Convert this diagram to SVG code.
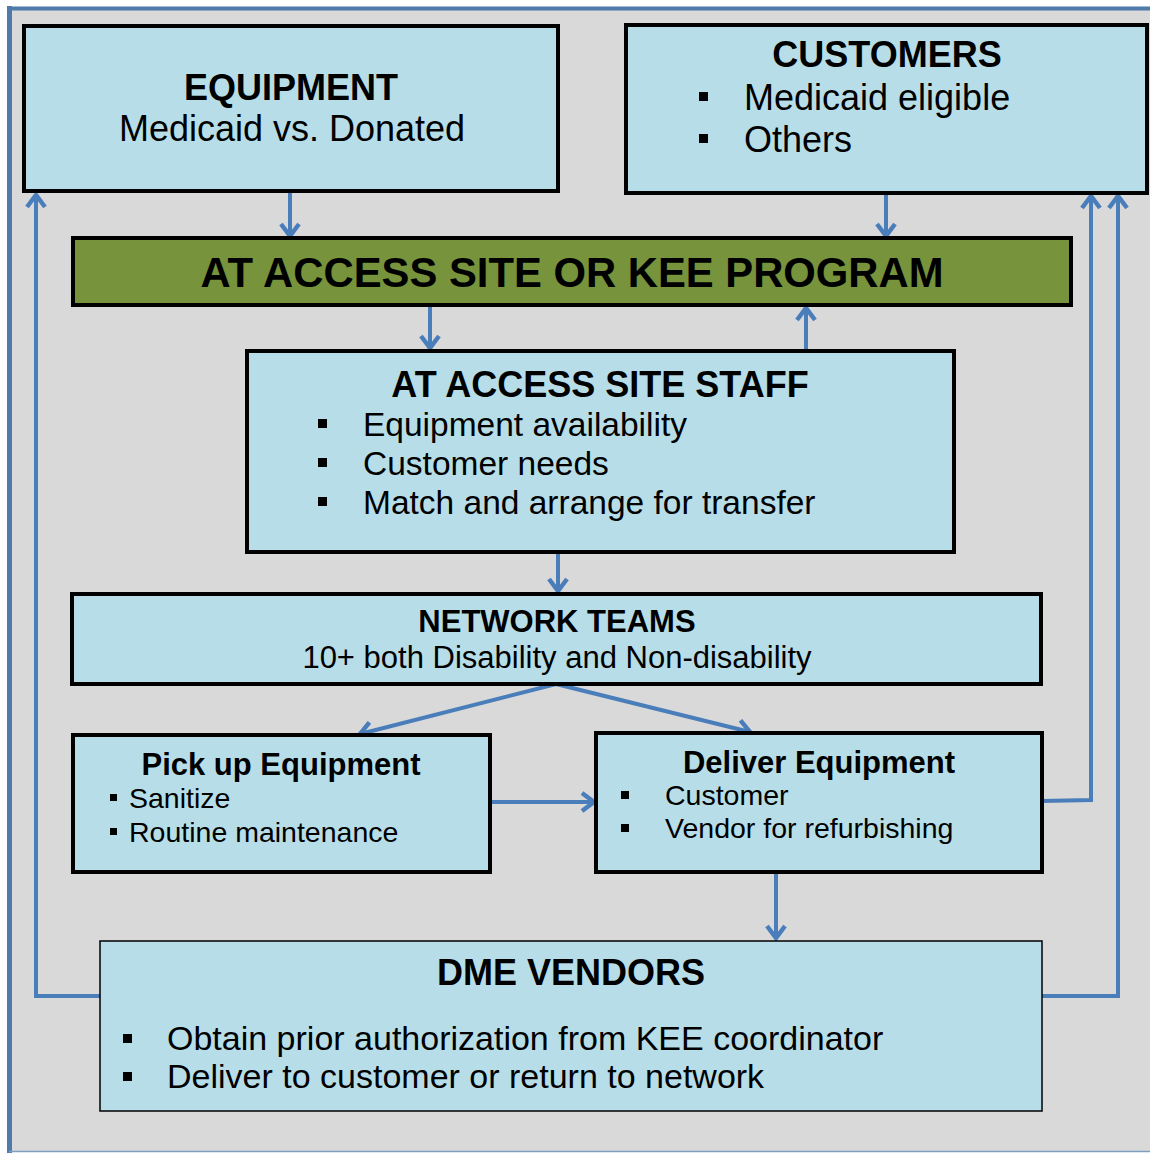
<svg xmlns="http://www.w3.org/2000/svg" width="1150" height="1153" viewBox="0 0 1150 1153">
<defs>
<style>
.box{fill:#b7dee8;stroke:#000;stroke-width:4}
.thin{fill:#b7dee8;stroke:#000;stroke-width:1.5}
.t{font-family:"Liberation Sans",Arial,sans-serif;fill:#000}
.b{font-weight:bold}
.c{text-anchor:middle}
.con{fill:none;stroke:#4a7ebb;stroke-width:4;stroke-linejoin:miter}
</style>
<marker id="ah" viewBox="-3 -3 18 24" markerWidth="18" markerHeight="24" refX="12" refY="9" orient="auto" markerUnits="userSpaceOnUse">
<path d="M0,0 L12,9 L0,18" fill="none" stroke="#4a7ebb" stroke-width="4.5"/>
</marker>
</defs>
<rect x="0" y="0" width="1150" height="1153" fill="#fff"/>
<rect x="9" y="8" width="1141" height="1143" fill="#d9d9d9"/>
<line x1="9" y1="8.5" x2="1150" y2="8.5" stroke="#4f7bab" stroke-width="4"/>
<line x1="9.5" y1="6" x2="9.5" y2="1153" stroke="#4f7bab" stroke-width="5"/>
<line x1="9" y1="1151.5" x2="1150" y2="1151.5" stroke="#7f9fc0" stroke-width="1.5"/>

<g id="connectors">
<line class="con" x1="290" y1="192" x2="290" y2="236" marker-end="url(#ah)"/>
<line class="con" x1="886" y1="194" x2="886" y2="236" marker-end="url(#ah)"/>
<line class="con" x1="430" y1="306" x2="430" y2="348" marker-end="url(#ah)"/>
<line class="con" x1="806" y1="349" x2="806" y2="308" marker-end="url(#ah)"/>
<line class="con" x1="558" y1="553" x2="558" y2="591" marker-end="url(#ah)"/>
<line class="con" x1="556" y1="684" x2="360" y2="734" marker-end="url(#ah)"/>
<line class="con" x1="556" y1="684" x2="750" y2="732" marker-end="url(#ah)"/>
<line class="con" x1="490" y1="802" x2="594" y2="802" marker-end="url(#ah)"/>
<polyline class="con" points="1042,801 1091,800 1091,196" marker-end="url(#ah)"/>
<line class="con" x1="776" y1="873" x2="776" y2="938" marker-end="url(#ah)"/>
<polyline class="con" points="100,996 36,996 36,195" marker-end="url(#ah)"/>
<polyline class="con" points="1042,996 1118,996 1118,196" marker-end="url(#ah)"/>
</g>

<g id="equipment">
<rect class="box" x="24" y="26" width="534" height="165"/>
<text class="t b c" x="291" y="100" font-size="36">EQUIPMENT</text>
<text class="t c" x="292" y="141" font-size="36">Medicaid vs. Donated</text>
</g>

<g id="customers">
<rect class="box" x="626" y="25" width="521" height="168"/>
<text class="t b c" x="887" y="67" font-size="36">CUSTOMERS</text>
<rect x="699" y="92" width="9" height="9"/>
<text class="t" x="744" y="110" font-size="36">Medicaid eligible</text>
<rect x="699" y="134" width="9" height="9"/>
<text class="t" x="744" y="152" font-size="36">Others</text>
</g>

<g id="kee-program">
<rect x="73" y="238" width="998" height="67" fill="#77933c" stroke="#000" stroke-width="4"/>
<text class="t b c" x="572" y="287" font-size="41.8">AT ACCESS SITE OR KEE PROGRAM</text>
</g>

<g id="staff">
<rect class="box" x="247" y="351" width="707" height="201"/>
<text class="t b c" x="600" y="397" font-size="36">AT ACCESS SITE STAFF</text>
<rect x="318" y="419" width="9" height="9"/>
<text class="t" x="363" y="436" font-size="33.5">Equipment availability</text>
<rect x="318" y="458" width="9" height="9"/>
<text class="t" x="363" y="475" font-size="33.5">Customer needs</text>
<rect x="318" y="497" width="9" height="9"/>
<text class="t" x="363" y="514" font-size="33.5">Match and arrange for transfer</text>
</g>

<g id="network-teams">
<rect class="box" x="72" y="594" width="969" height="90"/>
<text class="t b c" x="557" y="632" font-size="31">NETWORK TEAMS</text>
<text class="t c" x="557" y="668" font-size="31">10+ both Disability and Non-disability</text>
</g>

<g id="pickup">
<rect class="box" x="73" y="735" width="417" height="137"/>
<text class="t b c" x="281" y="775" font-size="31">Pick up Equipment</text>
<rect x="110" y="794" width="7" height="7"/>
<text class="t" x="129" y="808" font-size="28.5">Sanitize</text>
<rect x="110" y="828" width="7" height="7"/>
<text class="t" x="129" y="842" font-size="28.5">Routine maintenance</text>
</g>

<g id="deliver">
<rect class="box" x="596" y="733" width="446" height="139"/>
<text class="t b c" x="819" y="773" font-size="31">Deliver Equipment</text>
<rect x="621" y="791" width="8" height="8"/>
<text class="t" x="665" y="805" font-size="28.5">Customer</text>
<rect x="621" y="824" width="8" height="8"/>
<text class="t" x="665" y="838" font-size="28.5">Vendor for refurbishing</text>
</g>

<g id="dme-vendors">
<rect class="thin" x="100" y="941" width="942" height="170"/>
<text class="t b c" x="571" y="985" font-size="36">DME VENDORS</text>
<rect x="123" y="1034" width="9" height="9"/>
<text class="t" x="167" y="1050" font-size="34">Obtain prior authorization from KEE coordinator</text>
<rect x="123" y="1072" width="9" height="9"/>
<text class="t" x="167" y="1088" font-size="34">Deliver to customer or return to network</text>
</g>
</svg>
